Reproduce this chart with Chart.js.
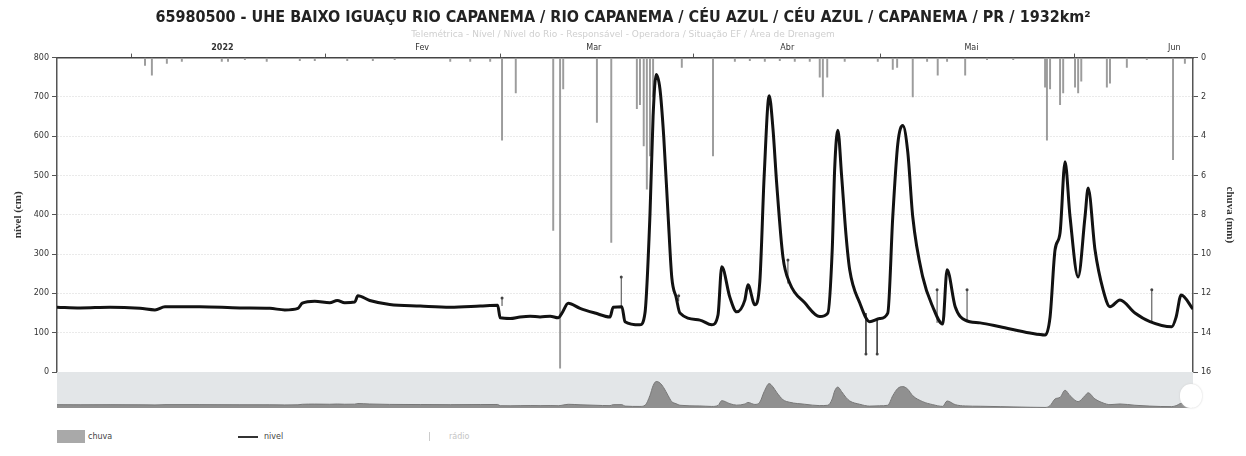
<!DOCTYPE html>
<html>
<head>
<meta charset="utf-8">
<script src="https://cdn.jsdelivr.net/npm/chart.js@4.4.1/dist/chart.umd.min.js"></script>
<style>
  html, body { margin: 0; padding: 0; background: #fff; }
  #wrap { position: relative; width: 1246px; height: 456px; overflow: hidden; }
  #nivelChart { position: absolute; left: 0; top: 0; }
  #navChart { position: absolute; left: 57px; top: 372px; background: #e3e6e8; }
  #navHandle { position: absolute; left: 1180px; top: 384px; width: 22px; height: 24px; border-radius: 12px; background: #fff; box-shadow: 0 0 2px #ccc; }
  .legend { position: absolute; top: 430px; font: 8px "DejaVu Sans", sans-serif; color: #444; }
  .legend span { position: absolute; white-space: nowrap; top: 2px; }
  .sw-chuva { position: absolute; left: 0; top: 0; width: 28px; height: 13px; background: #a9a9a9; }
  .sw-nivel { position: absolute; left: 0; top: 6px; width: 20px; height: 1.5px; background: #333; }
  .sw-radio { position: absolute; left: 0; top: 2px; width: 1px; height: 9px; background: #ccc; }
</style>
</head>
<body>
<div id="wrap">
  <canvas id="nivelChart" width="1246" height="380"></canvas>
  <canvas id="navChart" width="1136" height="36"></canvas>
  <div id="navHandle"></div>
  <div class="legend" style="left:57px"><div class="sw-chuva"></div><span style="left:31px">chuva</span></div>
  <div class="legend" style="left:238px"><div class="sw-nivel"></div><span style="left:26px">nivel</span></div>
  <div class="legend" style="left:429px"><div class="sw-radio"></div><span style="left:20px;color:#c4c4c4">rádio</span></div>
</div>
<script>
// days counted from 20/12/2021
const monthStarts = [12, 43, 71, 102, 132, 163];
const monthNames = ['2022', 'Fev', 'Mar', 'Abr', 'Mai', 'Jun'];
const monthLabelDays = [26.5, 58.5, 86, 117, 146.5, 179];

// nível (cm)
const levelDays = [0, 3.7, 8.5, 13.3, 15.7, 17.3, 22.9, 29.3, 34.1, 36.5, 38.6, 39.3, 41.3, 43.7, 44.9, 46.1, 47.7, 48.2, 50.1, 53.3,
  58.2, 63.0, 67.8, 70.6, 71.0, 72.6, 74.2, 75.8, 77.4, 79.0, 80.3, 80.9, 81.9, 83.8, 86.2, 88.6, 89.1, 90.5, 91.0, 93.4,
  94.2, 95.0, 95.5, 96.0, 96.6, 97.2, 97.9, 98.5, 99.2, 99.8, 103.0, 104.9, 105.9, 106.5, 107.8, 108.9, 110.2, 110.7, 111.8, 112.6,
  113.3, 114.1, 114.7, 115.3, 116.3, 117.4, 119.8, 122.2, 123.5, 124.2, 124.6, 125.1, 125.7, 126.4, 127.0, 128.6, 130.2, 131.8, 133.1, 133.9,
  134.7, 135.5, 136.3, 137.1, 138.7, 140.3, 141.9, 142.6, 143.9, 145.5, 147.9, 151.1, 155.9, 158.3, 159.1, 159.9, 160.7, 161.5, 162.3, 163.6,
  164.7, 165.2, 166.3, 167.6, 168.7, 170.3, 172.7, 175.1, 178.6, 179.3, 180.1, 182];
const levelValues = [165, 163, 165, 162, 158, 166, 166, 163, 162, 158, 162, 175, 180, 176, 182, 176, 178, 194, 182, 172,
  168, 165, 168, 170, 138, 136, 140, 142, 140, 142, 138, 150, 175, 162, 150, 140, 165, 166, 128, 120,
  150, 400, 650, 757, 720, 600, 400, 240, 190, 150, 132, 120, 145, 268, 190, 153, 183, 222, 171, 230,
  500, 703, 620, 480, 293, 226, 176, 141, 150, 311, 520, 615, 500, 350, 260, 176, 128, 136, 150, 395,
  580, 627, 560, 395, 242, 166, 122, 260, 166, 132, 125, 115, 99, 94, 140, 311, 354, 535, 395, 242,
  395, 468, 311, 209, 166, 183, 150, 128, 115, 140, 196, 160];

// chuva (mm)
const rainDays = [14.1, 15.2, 17.6, 20.0, 26.4, 27.4, 30.1, 33.6, 38.9, 41.3, 46.5, 50.6, 54.1, 63.0, 66.2, 69.4, 71.3, 73.5, 79.5, 80.6,
  81.1, 86.5, 88.8, 92.9, 93.4, 94.0, 94.5, 95.0, 95.5, 100.1, 105.1, 108.6, 111.0, 113.4, 115.8, 118.2, 120.6, 122.2, 122.7, 123.4,
  126.2, 131.5, 133.9, 134.6, 137.1, 139.4, 141.1, 142.6, 145.5, 149.0, 153.2, 158.3, 158.6, 159.1, 160.7, 161.2, 163.1, 163.6, 164.1, 168.2,
  168.7, 171.4, 174.6, 178.8, 180.7];
const rainValues = [0.4, 0.9, 0.3, 0.2, 0.2, 0.2, 0.1, 0.2, 0.15, 0.15, 0.15, 0.15, 0.1, 0.2, 0.2, 0.2, 4.2, 1.8, 8.8, 15.8,
  1.6, 3.3, 9.4, 2.6, 2.4, 4.5, 6.7, 5.0, 2.0, 0.5, 5.0, 0.2, 0.15, 0.2, 0.15, 0.2, 0.2, 1.0, 2.0, 1.0,
  0.2, 0.2, 0.6, 0.5, 2.0, 0.2, 0.9, 0.2, 0.9, 0.1, 0.1, 1.5, 4.2, 1.6, 2.4, 1.8, 1.5, 1.8, 1.2, 1.5,
  1.3, 0.5, 0.1, 5.2, 0.3];

// rádio readings (cm) and the nível at the same moment
const radioDays = [71.3, 90.4, 99.6, 117.1, 129.6, 131.4, 141.0, 145.8, 175.4];
const radioValues = [188, 242, 194, 285, 46, 46, 209, 209, 209];
const radioBase = [168, 166, 180, 225, 150, 136, 125, 130, 126];

const levelPoints = levelDays.map((d, i) => ({ x: d, y: levelValues[i] }));
const rainPoints = rainDays.map((d, i) => ({ x: d, y: rainValues[i] }));
const radioPoints = [];
radioDays.forEach((d, i) => {
  radioPoints.push({ x: d, y: radioBase[i] }, { x: d, y: radioValues[i] }, { x: d, y: null });
});

const tickFont = { family: '"DejaVu Sans", sans-serif', size: 8 };

new Chart(document.getElementById('nivelChart'), {
  type: 'line',
  data: {
    datasets: [
      {
        type: 'line',
        label: 'nivel',
        data: levelPoints,
        yAxisID: 'y',
        borderColor: '#121212',
        borderWidth: 3,
        pointRadius: 0,
        cubicInterpolationMode: 'monotone',
        order: 1
      },
      {
        type: 'line',
        label: 'rádio',
        data: radioPoints,
        yAxisID: 'y',
        borderColor: '#444',
        borderWidth: 1,
        spanGaps: false,
        pointRadius: ctx => (ctx.dataIndex % 3 === 1 ? 1.5 : 0),
        pointBackgroundColor: '#444',
        pointBorderWidth: 0,
        order: 2
      },
      {
        type: 'bar',
        label: 'chuva',
        data: rainPoints,
        yAxisID: 'y2',
        backgroundColor: '#9c9c9c',
        barThickness: 1.3,
        grouped: false,
        order: 3
      }
    ]
  },
  options: {
    responsive: false,
    animation: false,
    devicePixelRatio: 1,
    layout: { padding: { left: 0, right: 0, top: 0, bottom: 8 } },
    plugins: {
      legend: { display: false },
      tooltip: { enabled: false },
      title: {
        display: true,
        text: '65980500 - UHE BAIXO IGUAÇU RIO CAPANEMA / RIO CAPANEMA / CÉU AZUL / CÉU AZUL / CAPANEMA / PR / 1932km²',
        color: '#222',
        font: { family: '"DejaVu Sans Condensed", "DejaVu Sans", sans-serif', size: 16, weight: 'bold' },
        padding: { top: 8, bottom: 0 }
      },
      subtitle: {
        display: true,
        text: 'Telemétrica - Nível / Nível do Rio - Responsável - Operadora / Situação EF / Área de Drenagem',
        color: '#cfcfcf',
        font: { family: '"DejaVu Sans", sans-serif', size: 9 },
        padding: { top: 2.4, bottom: 0 }
      }
    },
    scales: {
      x: {
        type: 'linear',
        position: 'top',
        offset: false,
        min: 0,
        max: 182,
        afterBuildTicks: axis => {
          const ticks = monthStarts.map(v => ({ value: v, label: '' }));
          monthLabelDays.forEach((v, i) => ticks.push({ value: v, label: monthNames[i] }));
          ticks.sort((a, b) => a.value - b.value);
          axis.ticks = ticks;
        },
        afterFit: axis => { axis.height = 17.2; },
        ticks: {
          autoSkip: false,
          maxRotation: 0,
          padding: 1,
          color: '#333',
          font: ctx => ({
            family: '"DejaVu Sans", sans-serif',
            size: 8,
            weight: ctx.tick && ctx.tick.label === '2022' ? 'bold' : 'normal'
          }),
          callback: (value, index, ticks) => ticks[index].label
        },
        grid: {
          drawOnChartArea: false,
          offset: false,
          tickLength: 4,
          color: ctx => (ctx.tick && ctx.tick.label ? 'rgba(0,0,0,0)' : '#555')
        },
        border: { color: '#444', width: 1.5 }
      },
      y: {
        position: 'left',
        min: 0,
        max: 800,
        afterFit: axis => { axis.width = 57; },
        ticks: { stepSize: 100, padding: 3, color: '#333', font: tickFont },
        grid: { color: '#d4d4d4', tickLength: 5, tickColor: '#555', tickBorderDash: [] },
        border: { color: '#555', width: 1.5, dash: [1, 2] },
        title: {
          display: true,
          text: 'nível (cm)',
          color: '#333',
          font: { family: '"Liberation Serif", serif', size: 11, weight: 'bold' },
          padding: { top: 12, bottom: 0 }
        }
      },
      y2: {
        position: 'right',
        reverse: true,
        min: 0,
        max: 16,
        afterFit: axis => { axis.width = 53; },
        ticks: { stepSize: 2, padding: 3, color: '#333', font: tickFont },
        grid: { drawOnChartArea: false, tickLength: 5, color: '#555' },
        border: { color: '#555', width: 1.5 },
        title: {
          display: true,
          text: 'chuva (mm)',
          color: '#333',
          font: { family: '"Liberation Serif", serif', size: 11, weight: 'bold' },
          padding: { top: 10, bottom: 0 }
        }
      }
    }
  }
});

// navigator strip under the plot
new Chart(document.getElementById('navChart'), {
  type: 'line',
  data: {
    datasets: [{
      data: levelPoints,
      borderColor: '#777',
      borderWidth: 1,
      backgroundColor: '#909090',
      fill: 'start',
      pointRadius: 0,
      cubicInterpolationMode: 'monotone'
    }]
  },
  options: {
    responsive: false,
    animation: false,
    devicePixelRatio: 1,
    layout: { padding: 0 },
    plugins: { legend: { display: false }, tooltip: { enabled: false } },
    scales: {
      x: { type: 'linear', min: 0, max: 182, display: false },
      y: { min: 80, max: 1000, display: false }
    }
  }
});
</script>
</body>
</html>
